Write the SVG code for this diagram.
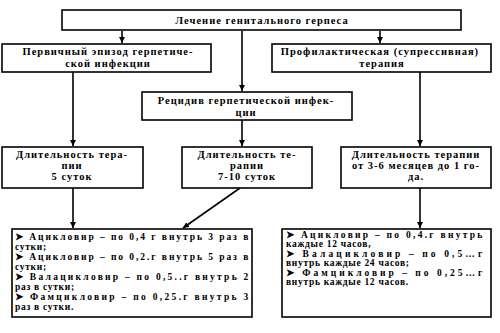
<svg xmlns="http://www.w3.org/2000/svg" width="500" height="333" viewBox="0 0 500 333">
<style>
.box{fill:#fff;stroke:#000;stroke-width:1.6}
.t{font-family:"Liberation Serif","DejaVu Serif",serif;font-size:10.5px;font-weight:bold;fill:#000;text-anchor:middle;letter-spacing:1px}
.b{font-family:"Liberation Serif","DejaVu Serif",serif;font-size:9.5px;font-weight:bold;fill:#000;letter-spacing:0.7px}
.c{stroke:#000;stroke-width:1.6;fill:none}
</style>
<defs>
<marker id="ah" viewBox="0 0 8 8" refX="8" refY="4" markerWidth="6" markerHeight="6" markerUnits="userSpaceOnUse" orient="auto">
<path d="M0,0 L8,4 L0,8 z" fill="#000"/>
</marker>
</defs>
<rect width="500" height="333" fill="#fff"/>
<g id="connectors">
<line class="c" x1="122" y1="31" x2="122" y2="43" marker-end="url(#ah)"/>
<line class="c" x1="380" y1="31" x2="380" y2="43" marker-end="url(#ah)"/>
<line class="c" x1="242" y1="31" x2="242" y2="91" marker-end="url(#ah)"/>
<line class="c" x1="73" y1="72" x2="73" y2="146" marker-end="url(#ah)"/>
<line class="c" x1="420" y1="72" x2="420" y2="146" marker-end="url(#ah)"/>
<line class="c" x1="242" y1="120" x2="242" y2="146" marker-end="url(#ah)"/>
<line class="c" x1="73" y1="188" x2="73" y2="228" marker-end="url(#ah)"/>
<line class="c" x1="240" y1="188" x2="183" y2="228" marker-end="url(#ah)"/>
<line class="c" x1="420" y1="188" x2="420" y2="228" marker-end="url(#ah)"/>
</g>
<g id="root">
<rect class="box" x="62" y="10" width="399" height="20"/>
<text class="t" x="262" y="24">Лечение генитального герпеса</text>
</g>
<g id="primary">
<rect class="box" x="2" y="44" width="209" height="28"/>
<text class="t" x="108" y="55">Первичный эпизод герпетиче-</text>
<text class="t" x="108" y="67">ской инфекции</text>
</g>
<g id="prophylactic">
<rect class="box" x="272" y="44" width="219" height="28"/>
<text class="t" x="380" y="55">Профилактическая (супрессивная)</text>
<text class="t" x="382" y="67">терапия</text>
</g>
<g id="relapse">
<rect class="box" x="142" y="92" width="210" height="28"/>
<text class="t" x="246" y="104">Рецидив герпетической инфек-</text>
<text class="t" x="246" y="116">ции</text>
</g>
<g id="dur1">
<rect class="box" x="2" y="147" width="141" height="41"/>
<text class="t" x="72" y="158">Длительность тера-</text>
<text class="t" x="72" y="169">пии</text>
<text class="t" x="72" y="180">5 суток</text>
</g>
<g id="dur2">
<rect class="box" x="182" y="147" width="130" height="41"/>
<text class="t" x="247" y="158">Длительность те-</text>
<text class="t" x="247" y="169">рапии</text>
<text class="t" x="247" y="180">7-10 суток</text>
</g>
<g id="dur3">
<rect class="box" x="341" y="147" width="150" height="41"/>
<text class="t" x="416" y="158">Длительность терапии</text>
<text class="t" x="416" y="169">от 3-6 месяцев до 1 го-</text>
<text class="t" x="416" y="180">да.</text>
</g>
<g id="drugs1">
<rect class="box" x="12" y="229" width="240" height="88"/>
<text class="b" x="15" y="240" textLength="234" lengthAdjust="spacing">➤  Ацикловир – по 0,4 г внутрь 3 раз в</text>
<text class="b" x="15" y="250">сутки;</text>
<text class="b" x="15" y="260" textLength="234" lengthAdjust="spacing">➤  Ацикловир – по 0,2.г внутрь 5 раз в</text>
<text class="b" x="15" y="270">сутки;</text>
<text class="b" x="15" y="280" textLength="234" lengthAdjust="spacing">➤  Валацикловир – по 0,5..г внутрь 2</text>
<text class="b" x="15" y="290">раз в сутки;</text>
<text class="b" x="15" y="300" textLength="234" lengthAdjust="spacing">➤  Фамцикловир – по 0,25.г внутрь 3</text>
<text class="b" x="15" y="310">раз в сутки.</text>
</g>
<g id="drugs2">
<rect class="box" x="282" y="229" width="209" height="88"/>
<text class="b" x="286" y="238" textLength="197" lengthAdjust="spacing">➤  Ацикловир – по 0,4.г внутрь</text>
<text class="b" x="286" y="247">каждые 12 часов,</text>
<text class="b" x="286" y="257" textLength="197" lengthAdjust="spacing">➤  Валацикловир – по 0,5…г</text>
<text class="b" x="286" y="266">внутрь каждые 24 часов;</text>
<text class="b" x="286" y="276" textLength="197" lengthAdjust="spacing">➤  Фамцикловир – по 0,25…г</text>
<text class="b" x="286" y="285">внутрь каждые 12 часов.</text>
</g>
</svg>
